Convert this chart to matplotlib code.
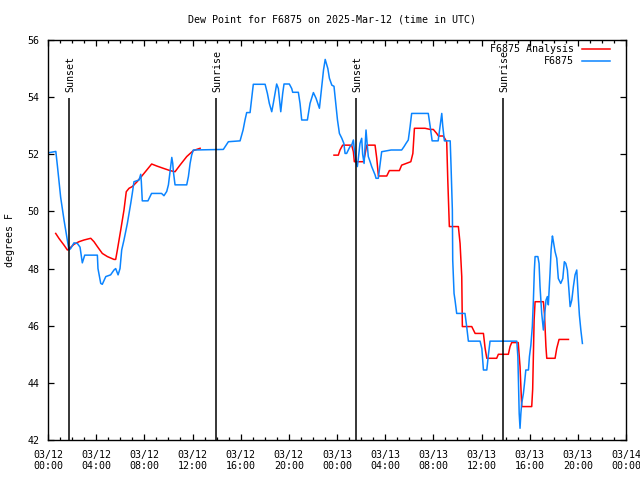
import numpy as np
import matplotlib
matplotlib.use("Agg")
import matplotlib.pyplot as plt

# hours after 2025-03-12 00:00 UTC
obs_hours = [0.0, 0.65, 0.78, 1.05, 1.33, 1.74, 1.88, 2.16, 2.44, 2.66, 2.85, 3.05, 4.1, 4.15,
             4.38, 4.51, 4.8, 5.2, 5.48, 5.62, 5.82, 5.98, 6.12, 6.31, 6.59, 6.87, 7.0, 7.14,
             7.56, 7.7, 7.75, 7.83, 8.3, 8.6, 9.43, 9.63, 9.86, 10.0, 10.13, 10.28, 10.36, 10.41,
             10.55, 11.52, 11.66, 11.8, 11.93, 12.07, 14.56, 14.98, 15.95, 16.2, 16.36, 16.5,
             16.78, 16.92, 17.05, 18.03, 18.22, 18.38, 18.58, 18.71, 18.99, 19.13, 19.33, 19.49,
             19.6, 20.04, 20.24, 20.32, 20.79, 20.93, 21.07, 21.54, 21.76, 22.04, 22.26, 22.54,
             22.74, 22.88, 23.02, 23.1, 23.24, 23.37, 23.57, 23.75, 23.93, 24.04, 24.2, 24.4,
             24.57, 24.67, 24.8, 24.94, 25.08, 25.22, 25.36, 25.44, 25.58, 25.69, 25.77, 25.91,
             26.05, 26.13, 26.25, 26.41, 26.5, 26.6, 26.75, 26.88, 27.16, 27.24, 27.43, 27.57,
             27.71, 28.49, 29.37, 29.57, 29.73, 29.92, 30.07, 30.2, 31.58, 31.73, 31.9, 32.4,
             32.56, 32.7, 32.78, 32.92, 33.4, 33.47, 33.58, 33.61, 33.72, 33.8, 33.94, 34.63,
             34.77, 34.91, 35.88, 36.03, 36.16, 36.44, 36.57, 36.71, 38.93, 39.02, 39.13, 39.2,
             39.27, 39.34, 39.48, 39.57, 39.68, 39.9, 39.98, 40.1, 40.22, 40.31, 40.39, 40.45,
             40.68, 40.78, 40.86, 41.0, 41.14, 41.28, 41.36, 41.47, 41.55, 41.69, 41.78, 41.89,
             41.97, 42.11, 42.25, 42.38, 42.58, 42.75, 42.88, 43.0, 43.13, 43.25, 43.36, 43.5,
             43.63, 43.77, 43.91, 44.05, 44.13, 44.25, 44.38]
obs_dewpt = [52.05, 52.1, 51.6, 50.5, 49.7, 48.65, 48.7, 48.9, 48.88, 48.75, 48.2, 48.47, 48.47, 48.0,
             47.48, 47.45, 47.72, 47.78, 47.95, 48.0, 47.78, 48.0, 48.65, 49.0, 49.58, 50.28, 50.63, 51.04,
             51.1, 51.3, 51.04, 50.37, 50.37, 50.63, 50.63, 50.55, 50.7, 50.93, 51.39, 51.89, 51.68, 51.4,
             50.93, 50.93, 51.22, 51.68, 51.97, 52.15, 52.17, 52.44, 52.47, 52.85, 53.2, 53.46,
             53.46, 53.96, 54.45, 54.45, 54.13, 53.78, 53.49, 53.78, 54.46, 54.3, 53.49, 54.13,
             54.46, 54.46, 54.3, 54.17, 54.17, 53.78, 53.2, 53.2, 53.78, 54.16, 53.96, 53.61,
             54.42, 54.95, 55.32, 55.2, 55.0, 54.66, 54.42, 54.38, 53.67, 53.2, 52.73, 52.56,
             52.38, 52.03, 52.03, 52.15, 52.27, 52.32, 52.5, 52.15, 51.74, 51.57, 51.85, 52.38,
             52.56, 52.0, 51.68, 52.85, 52.38, 51.92, 51.74, 51.57, 51.28, 51.16, 51.16, 51.62,
             52.09, 52.15, 52.15, 52.27, 52.38, 52.5, 52.97, 53.43, 53.43, 53.0, 52.47, 52.47,
             52.97, 53.43, 53.0, 52.47, 52.47, 51.6, 50.05, 48.3, 47.13, 46.9, 46.43, 46.43,
             45.97, 45.46, 45.46, 45.2, 44.45, 44.45, 44.97, 45.46, 45.46, 44.92, 42.93, 42.41,
             42.93, 43.28, 43.63, 43.98, 44.45, 44.45, 44.92, 45.32, 45.97, 46.9, 47.95, 48.42,
             48.42, 48.18, 47.37, 46.43, 45.85, 46.55, 46.9, 47.02, 46.73, 47.83, 48.65, 49.14,
             48.95, 48.59, 48.36, 47.65, 47.48, 47.65, 48.24, 48.18, 47.95, 47.31, 46.67, 46.9,
             47.37, 47.78, 47.95, 46.9, 46.37, 45.85, 45.38]

ana_hours = [0.64, 0.92, 1.33, 1.61, 1.9, 2.16, 2.57, 2.99, 3.55, 3.82, 4.1, 4.51, 4.93, 5.48,
             5.62, 5.76, 6.04, 6.31, 6.5, 6.73, 7.0, 7.4, 7.97, 8.61, 9.03, 9.57, 10.13, 10.55,
             10.96, 11.52, 12.07, 12.63, 18.0,
             23.75, 24.11, 24.25, 24.47, 25.22, 25.36, 25.44, 26.2, 26.33, 26.47, 27.16, 27.3,
             27.44, 28.13, 28.35, 29.18, 29.37, 30.13, 30.3, 30.43, 31.31, 31.73, 32.0, 32.28,
             32.42, 32.83, 33.11, 33.2, 33.33, 34.08, 34.22, 34.36, 34.41, 35.19, 35.33, 35.47,
             36.16, 36.3, 36.44, 37.26, 37.4, 38.23, 38.37, 38.51, 39.05, 39.2, 39.34, 40.17,
             40.25, 40.37, 40.45, 41.14, 41.23, 41.35, 41.42, 42.11, 42.25, 42.44, 43.22]
ana_dewpt = [49.23, 49.05, 48.82, 48.65, 48.75, 48.85, 48.94, 49.0, 49.06, 48.94, 48.77, 48.53, 48.42, 48.32,
             48.32, 48.65, 49.35, 50.05, 50.69, 50.81, 50.87, 51.04, 51.33, 51.66, 51.59, 51.51, 51.43, 51.39,
             51.62, 51.92, 52.13, 52.21, np.nan,
             51.97, 51.97, 52.15, 52.32, 52.32, 52.09, 51.74, 51.74, 52.0, 52.32, 52.32, 51.86,
             51.24, 51.24, 51.43, 51.43, 51.62, 51.74, 52.03, 52.91, 52.91, 52.87, 52.87, 52.73,
             52.64, 52.64, 52.44, 51.1, 49.47, 49.47, 48.88, 47.72, 45.97, 45.97, 45.85, 45.73,
             45.73, 45.21, 44.86, 44.86, 45.0, 45.0, 45.27, 45.41, 45.41, 44.57, 43.17, 43.17,
             43.78, 46.2, 46.84, 46.84, 46.4, 45.27, 44.86, 44.86, 45.21, 45.52, 45.52]

sun_events = ["Sunset", "Sunrise", "Sunset", "Sunrise"]
sun_hours = [1.74, 13.95, 25.58, 37.79]

xtick_labels = ["03/12\n00:00", "03/12\n04:00", "03/12\n08:00", "03/12\n12:00", "03/12\n16:00",
                "03/12\n20:00", "03/13\n00:00", "03/13\n04:00", "03/13\n08:00", "03/13\n12:00",
                "03/13\n16:00", "03/13\n20:00", "03/14\n00:00"]

plt.rcParams["font.family"] = "DejaVu Sans Mono"
plt.rcParams["font.size"] = 7.2

fig = plt.figure(figsize=(6.4, 4.8), dpi=100)
ax = fig.add_axes([48 / 640, 40 / 480, 578 / 640, 400 / 480])

ax.plot(ana_hours, ana_dewpt, color="#ff0000", lw=1.1, label="F6875 Analysis")
ax.plot(obs_hours, obs_dewpt, color="#0a84ff", lw=1.1, label="F6875")

for name, h in zip(sun_events, sun_hours):
    ax.vlines(h, 42, 53.97, color="black", lw=1.1)
    ax.text(h + 0.12, 54.18, name, rotation=90, ha="center", va="bottom")

ax.set_xlim(0, 48)
ax.set_ylim(42, 56)
ax.set_xticks(np.arange(0, 49, 4))
ax.set_xticklabels(xtick_labels)
ax.set_xticks(np.arange(0, 49, 1), minor=True)
ax.set_yticks(np.arange(42, 57, 2))
ax.tick_params(axis="both", which="major", direction="in", length=4.5, width=0.9,
               top=True, right=True)
ax.tick_params(axis="x", which="minor", direction="in", length=2.3, width=0.9, top=True)
ax.tick_params(axis="x", which="major", pad=7)
ax.tick_params(axis="y", which="major", pad=6)
for s in ax.spines.values():
    s.set_linewidth(1.0)

fig.text(10 / 640, 0.5, "degrees F", rotation=90, ha="center", va="center")
fig.text(332 / 640, 1 - 19 / 480, "Dew Point for F6875 on 2025-Mar-12 (time in UTC)",
         ha="center", va="center")

ax.legend(loc="upper right", bbox_to_anchor=(610 / 640, 1 - 44 / 480),
          bbox_transform=fig.transFigure, frameon=False, markerfirst=False,
          handlelength=2.8, handletextpad=0.8, labelspacing=0.25, borderpad=0,
          borderaxespad=0)

fig.savefig("out.png", dpi=100)
plt.close(fig)
